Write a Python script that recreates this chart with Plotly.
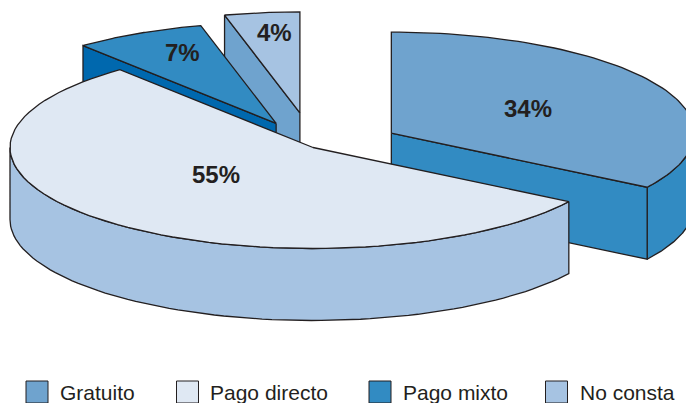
import numpy as np
import plotly.graph_objects as go

categories = ["Gratuito", "Pago directo", "Pago mixto", "No consta"]
values = [34, 55, 7, 4]
labels = ["34%", "55%", "7%", "4%"]
explode = [0.295, 0.0, 0.268, 0.345]
top_colors = ["#6FA3CE", "#DFE8F3", "#328BC2", "#A6C3E2"]
side_colors = ["#328BC2", "#A6C3E2", "#0068AE", "#6FA3CE"]
legend_colors = ["#6FA3CE", "#DFE8F3", "#328BC2", "#A6C3E2"]
legend_x = [37, 187.5, 380, 556.5]
legend_text_x = [58, 208, 401, 577.5]
label_pos = [(528, 108), (215.5, 174.5), (182, 52.5), (274, 32.5)]

CX, CY, A, B, DEPTH = 313, 147.5, 303, 101, 72
EDGE = "#231F20"
LW = 1.3


def rim(t0, t1, c, drop=0, n=80):
    t = np.radians(np.linspace(t0, t1, n))
    return c[0] + A * np.sin(t), c[1] - B * np.cos(t) + drop


cum = np.concatenate([[0], np.cumsum(values)]) * 3.6
slices = []
for i in range(4):
    t0, t1 = cum[i], cum[i + 1]
    mid = np.radians((t0 + t1) / 2)
    c = (CX + explode[i] * A * np.sin(mid), CY - explode[i] * B * np.cos(mid))
    slices.append((t0, t1, c))

fig = go.Figure()


def poly(x, y, color):
    fig.add_trace(go.Scatter(x=list(x), y=list(y), mode="lines", fill="toself",
                             fillcolor=color, line=dict(color=EDGE, width=LW),
                             hoverinfo="skip", showlegend=False))


def cut_face(c, t, color):
    px, py = rim(t, t, c, n=1)
    poly([c[0], px[0], px[0], c[0], c[0]],
         [c[1], py[0], py[0] + DEPTH, c[1] + DEPTH, c[1]], color)


def outer_side(t0, t1, c, color):
    x, y = rim(t0, t1, c)
    poly(np.r_[x, x[::-1], x[0]], np.r_[y, y[::-1] + DEPTH, y[0]], color)


def top(t0, t1, c, color):
    x, y = rim(t0, t1, c)
    poly(np.r_[c[0], x, c[0]], np.r_[c[1], y, c[1]], color)


# back to front: No consta, Pago mixto, Gratuito, Pago directo
t0, t1, c = slices[3]
cut_face(c, t0, side_colors[3])
top(t0, t1, c, top_colors[3])

t0, t1, c = slices[2]
cut_face(c, t0, side_colors[2])
top(t0, t1, c, top_colors[2])

t0, t1, c = slices[0]
outer_side(90, t1, c, side_colors[0])
cut_face(c, t1, side_colors[0])
top(t0, t1, c, top_colors[0])

t0, t1, c = slices[1]
outer_side(t0, 270, c, side_colors[1])
top(t0, t1, c, top_colors[1])

fig.add_trace(go.Scatter(x=legend_x, y=[392] * 4, mode="markers",
                         marker=dict(symbol="square", size=22, color=legend_colors,
                                     line=dict(color=EDGE, width=1)),
                         hoverinfo="skip", showlegend=False))

ann = []
for txt, (x, y) in zip(labels, label_pos):
    ann.append(dict(x=x, y=y, text="<b>%s</b>" % txt, showarrow=False, xanchor="center", yanchor="middle",
                    font=dict(family="Liberation Sans", size=24, color=EDGE)))
for txt, x in zip(categories, legend_text_x):
    ann.append(dict(x=x, y=392, text=txt, showarrow=False, xanchor="left", yanchor="middle",
                    font=dict(family="Liberation Sans", size=21, color=EDGE)))

fig.update_layout(
    width=686, height=403, margin=dict(l=0, r=0, t=0, b=0),
    paper_bgcolor="white", plot_bgcolor="white", annotations=ann,
    xaxis=dict(range=[0, 686], visible=False, fixedrange=True),
    yaxis=dict(range=[403, 0], visible=False, fixedrange=True),
)
fig.write_html("out.html", config={"displayModeBar": False},
               post_script="document.body.style.margin='0';document.documentElement.style.overflow='hidden';")
